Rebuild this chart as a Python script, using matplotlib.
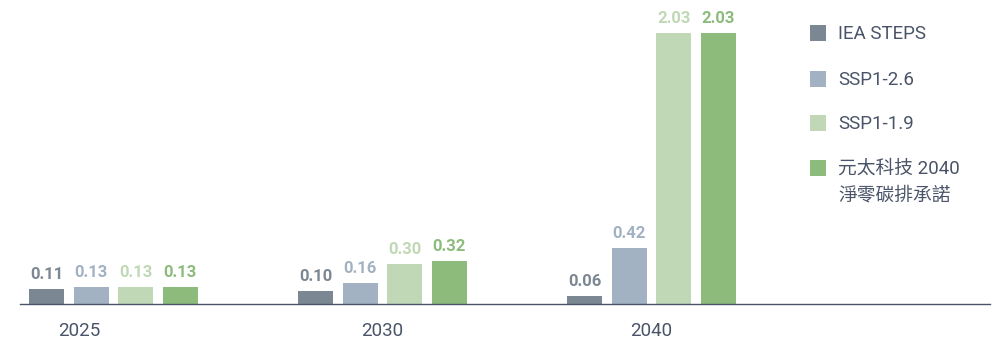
import matplotlib
matplotlib.use("Agg")
import matplotlib.pyplot as plt
from matplotlib.patches import Rectangle
import numpy as np

years = ["2025", "2030", "2040"]
series = ["IEA STEPS", "SSP1-2.6", "SSP1-1.9", "元太科技 2040\n淨零碳排承諾"]
iea_steps = [0.11, 0.10, 0.06]
ssp126 = [0.13, 0.16, 0.42]
ssp119 = [0.13, 0.30, 2.03]
eink_2040 = [0.13, 0.32, 2.03]
values = [iea_steps, ssp126, ssp119, eink_2040]

colors = ["#7b8792", "#a2b2c2", "#c1d8b6", "#8dbb7c"]
text_color = "#4a5468"

plt.rcParams["font.family"] = ["Roboto", "Noto Sans CJK TC", "DejaVu Sans"]

fig = plt.figure(figsize=(10, 3.41), dpi=100)
ax = fig.add_axes([0.02, 37 / 341, 0.97, 300 / 341])

x = np.arange(len(years))
step = 0.1655
width = 0.13
for i, (vals, c) in enumerate(zip(values, colors)):
    pos = x + (i - 1.5) * step
    ax.bar(pos, vals, width=width, color=c, linewidth=0)
    for p, v in zip(pos, vals):
        ax.annotate(f"{v:.2f}", (p, v), xytext=(0, 5), textcoords="offset points",
                    ha="center", va="bottom", fontsize=12, fontweight="bold", color=c)

ax.set_xlim(-0.3476, 3.258)
ax.set_ylim(0, 2.25)
for s in ["top", "right", "left"]:
    ax.spines[s].set_visible(False)
ax.spines["bottom"].set_color(text_color)
ax.spines["bottom"].set_linewidth(1.0)
ax.set_yticks([])
label_shift = [-0.127, 0.0, 0.0]
ax.set_xticks(x + np.array(label_shift))
ax.set_xticklabels(years, fontsize=13.5, color=text_color)
ax.tick_params(axis="x", length=0, pad=13)

# legend
row_y = [33, 79, 123, 168]
for name, c, yy in zip(series, colors, row_y):
    fig.add_artist(Rectangle((810 / 1000, 1 - (yy + 8) / 341), 16 / 1000, 16 / 341,
                             transform=fig.transFigure, color=c, linewidth=0))
    fig.text(838 / 1000, 1 - (yy - 8) / 341, name, fontsize=13.5, color=text_color,
             va="top", ha="left", linespacing=1.62)

fig.savefig("out.png", dpi=100)
